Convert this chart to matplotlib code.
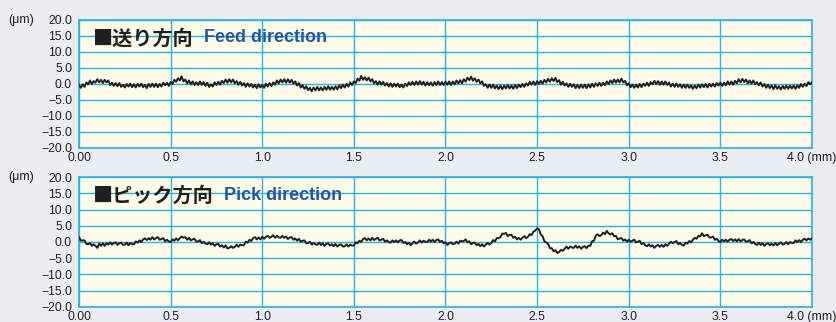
import numpy as np
import matplotlib
matplotlib.use("Agg")
import matplotlib.pyplot as plt

# surface profile readings every 0.01 mm, in micrometres
pos_mm = np.round(np.arange(0, 4.0001, 0.01), 2)

feed_um = [
    -0.3, -1.2, -0.1, -0.9, 0.5, -0.1, 1.1, 0.0, 0.9, 0.4,
    1.5, 0.5, 1.3, 0.3, 1.3, 0.5, 1.1, -0.3, 0.4, -0.6,
    0.3, -0.7, 0.3, -0.9, -0.2, -1.1, 0.0, -0.8, 0.1, -1.0,
    -0.1, -1.1, 0.0, -0.8, 0.1, -1.0, -0.3, -1.3, 0.0, -0.9,
    0.1, -0.9, 0.1, -1.0, 0.0, -0.8, 0.4, -0.4, 0.4, -0.6,
    0.6, 0.0, 1.3, 0.7, 1.8, 1.1, 2.4, 0.8, 1.4, 0.2,
    1.1, -0.1, 0.8, -0.3, 0.6, -0.3, 0.8, -0.3, 0.6, -0.6,
    0.4, -0.9, -0.1, -0.8, 0.5, -0.3, 0.7, -0.2, 1.0, 0.3,
    1.4, 0.4, 1.5, 0.5, 1.4, 0.2, 0.9, -0.2, 0.7, -0.5,
    0.3, -0.9, 0.2, -0.8, 0.0, -1.1, -0.2, -1.3, -0.1, -1.1,
    -0.3, -1.2, 0.1, -0.8, 0.3, -0.7, 0.5, -0.2, 1.1, 0.2,
    1.4, 0.5, 1.5, 0.4, 1.5, 0.4, 1.3, 0.1, 0.8, -0.5,
    0.3, -1.1, -0.4, -1.5, -0.7, -1.9, -1.2, -2.3, -1.1, -2.0,
    -0.9, -2.0, -1.1, -2.0, -0.9, -1.8, -0.7, -1.8, -0.9, -1.8,
    -0.7, -1.7, -0.4, -1.3, -0.2, -1.1, 0.0, -0.8, 0.5, -0.3,
    0.8, 0.3, 1.7, 1.0, 2.5, 1.3, 2.1, 1.1, 2.0, 0.8,
    1.5, 0.2, 0.9, -0.2, 0.8, -0.2, 0.7, -0.5, 0.3, -0.8,
    0.2, -0.9, 0.1, -0.8, 0.1, -1.0, -0.2, -1.1, 0.1, -0.7,
    0.5, -0.3, 0.7, -0.3, 0.8, -0.2, 0.9, -0.2, 0.7, -0.5,
    0.6, -0.4, 0.5, -0.5, 0.6, -0.3, 0.8, -0.3, 0.6, -0.3,
    0.8, -0.2, 0.8, -0.3, 0.8, -0.1, 1.1, 0.2, 1.2, 0.2,
    1.5, 0.7, 2.0, 1.2, 2.3, 1.0, 1.8, 0.7, 1.4, 0.2,
    0.8, -0.6, -0.1, -1.2, -0.2, -1.2, -0.2, -1.4, -0.5, -1.6,
    -0.5, -1.6, -0.5, -1.4, -0.3, -1.4, -0.5, -1.5, -0.3, -1.3,
    -0.2, -1.0, 0.0, -0.9, 0.2, -0.5, 0.7, -0.2, 0.8, -0.3,
    0.9, 0.0, 1.0, 0.1, 1.3, 0.5, 1.6, 0.7, 1.8, 0.9,
    1.9, 0.6, 1.2, -0.2, 0.7, -0.5, 0.2, -0.9, 0.1, -0.9,
    -0.1, -1.3, -0.3, -1.3, -0.2, -1.2, -0.2, -1.3, -0.1, -1.1,
    0.1, -0.9, 0.2, -0.6, 0.4, -0.6, 0.4, -0.4, 0.8, 0.0,
    1.1, 0.3, 1.4, 0.4, 1.4, 0.5, 1.7, 0.5, 1.0, -0.4,
    0.2, -1.0, -0.2, -1.2, -0.2, -1.1, 0.0, -1.0, 0.1, -0.6,
    0.4, -0.6, 0.6, -0.1, 1.0, 0.0, 0.9, -0.2, 0.8, -0.2,
    0.8, -0.3, 0.5, -0.8, 0.1, -0.9, 0.1, -0.9, -0.1, -1.2,
    -0.2, -1.2, -0.2, -1.2, -0.4, -1.5, -0.5, -1.3, -0.2, -1.1,
    -0.1, -1.0, 0.0, -1.1, 0.1, -0.8, 0.1, -0.8, 0.3, -0.5,
    0.4, -0.6, 0.4, -0.4, 0.8, -0.2, 0.8, -0.2, 1.0, 0.2,
    1.5, 0.5, 1.6, 0.6, 1.4, 0.2, 1.1, 0.1, 1.1, -0.1,
    0.6, -0.4, 0.5, -0.8, 0.0, -1.2, -0.2, -1.3, -0.5, -1.6,
    -0.4, -1.5, -0.7, -1.7, -0.6, -1.5, -0.5, -1.5, -0.5, -1.4,
    -0.5, -1.5, -0.4, -1.2, 0.0, -0.9, 0.1, -0.7, 0.6, -0.1,
    0.6,
]

pick_um = [
    1.5, 0.4, 0.5, 0.5, -0.6, -0.7, -0.3, -1.2, -0.7, -1.2,
    -1.8, -0.5, -1.2, -0.4, -1.2, -0.4, -0.8, -0.1, -0.8, -0.3,
    -0.1, -0.9, -0.4, -0.2, -0.9, -0.8, -0.2, -1.0, -0.3, -0.7,
    -0.7, 0.2, -0.2, 0.5, 0.0, 0.8, 1.1, 0.6, 1.2, 0.7,
    1.5, 0.8, 1.2, 1.5, 0.7, 0.9, 1.2, 0.2, 0.7, 0.2,
    0.0, 0.8, 0.4, 1.1, 0.5, 1.2, 1.7, 1.3, 1.5, 0.7,
    1.3, 0.5, 0.8, 1.0, 0.1, 0.2, 0.6, -0.4, 0.1, -0.5,
    -0.7, -0.1, -0.8, -0.4, -1.2, -0.7, -0.6, -1.4, -1.0, -1.7,
    -1.0, -2.0, -1.8, -1.3, -1.8, -1.5, -0.8, -1.5, -0.8, -1.0,
    -1.0, 0.1, -0.2, 0.7, 0.3, 1.2, 1.5, 0.8, 1.4, 0.8,
    1.6, 1.0, 1.6, 1.9, 1.3, 1.6, 2.1, 1.3, 1.9, 1.4,
    1.3, 1.9, 1.3, 1.7, 0.9, 1.4, 1.5, 0.7, 1.1, 0.4,
    1.0, 0.1, 0.4, 0.5, -0.4, -0.3, 0.1, -0.8, -0.3, -0.7,
    -0.9, -0.2, -0.9, -0.4, -1.2, -0.6, -0.4, -1.1, -0.7, -1.3,
    -0.6, -1.4, -0.9, -0.7, -1.4, -1.3, -0.7, -1.4, -0.8, -1.1,
    -1.1, -0.1, -0.4, 0.4, 0.0, 0.9, 1.2, 0.5, 1.1, 0.5,
    1.3, 0.6, 1.0, 1.3, 0.5, 0.7, 1.0, 0.1, 0.5, 0.0,
    -0.2, 0.5, 0.0, 0.5, -0.1, 0.5, 0.6, -0.3, 0.0, -0.7,
    -0.2, -1.0, -0.4, 0.1, -0.5, -0.1, 0.5, -0.2, 0.4, 0.1,
    0.0, 0.7, 0.1, 0.7, 0.0, 0.6, 0.8, 0.0, 0.4, -0.4,
    -0.1, -0.9, -0.4, -0.1, -0.7, -0.5, 0.1, -0.5, 0.4, 0.2,
    0.3, 0.8, -0.1, 0.2, -0.7, -0.3, -0.2, -1.0, -0.6, -1.3,
    -0.7, -1.4, -0.8, -0.3, -0.8, -0.3, 0.6, 0.2, 1.2, 1.2,
    1.5, 2.6, 2.5, 2.8, 1.8, 2.2, 2.2, 1.3, 1.6, 0.8,
    1.3, 0.7, 1.3, 1.8, 1.2, 1.6, 2.4, 2.1, 3.2, 3.5,
    4.2, 3.9, 2.3, 1.8, 0.2, -0.1, -0.6, -1.9, -1.9, -2.9,
    -2.5, -3.4, -3.1, -2.4, -2.7, -2.1, -1.4, -2.1, -1.4, -1.7,
    -1.8, -1.1, -1.8, -1.3, -2.1, -1.5, -1.3, -1.9, -1.1, -1.2,
    0.2, 0.4, 1.9, 2.4, 1.8, 2.1, 2.9, 2.4, 3.4, 2.7,
    2.3, 2.7, 1.8, 1.9, 0.8, 1.1, 1.2, 0.4, 0.8, 0.1,
    0.7, 0.0, 0.4, 0.7, -0.1, 0.1, 0.4, -0.7, -0.3, -1.0,
    -1.3, -0.7, -1.4, -1.0, -1.8, -1.2, -0.9, -1.5, -0.9, -1.5,
    -0.7, -1.2, -0.5, 0.1, -0.4, 0.0, 0.3, -0.7, -0.3, -0.9,
    -1.1, -0.2, -0.5, 0.3, -0.1, 0.7, 1.3, 1.0, 1.9, 1.7,
    2.7, 1.8, 2.1, 2.2, 1.4, 1.4, 1.7, 0.7, 1.0, 0.3,
    0.0, 0.7, 0.2, 0.7, 0.1, 0.7, 0.9, 0.3, 0.8, 0.2,
    0.9, 0.2, 0.6, 0.8, 0.1, 0.2, 0.6, -0.4, 0.0, -0.6,
    -0.9, -0.2, -0.9, -0.4, -1.2, -0.6, -0.4, -1.0, -0.5, -1.1,
    -0.3, -1.0, -0.5, -0.1, -0.8, -0.6, 0.0, -0.7, 0.0, -0.3,
    -0.3, 0.5, 0.0, 0.6, 0.0, 0.7, 1.0, 0.5, 1.1, 0.7,
    1.2,
]

y_ticks = [-20.0, -15.0, -10.0, -5.0, 0.0, 5.0, 10.0, 15.0, 20.0]
y_labels = ["\u221220.0", "\u221215.0", "\u221210.0", "\u22125.0", "0.0",
            "5.0", "10.0", "15.0", "20.0"]
x_ticks = [0.0, 0.5, 1.0, 1.5, 2.0, 2.5, 3.0, 3.5, 4.0]
x_labels = ["0.00", "0.5", "1.0", "1.5", "2.0", "2.5", "3.0", "3.5", "4.0 (mm)"]

panels = [
    ("\u25a0送り方向", "Feed direction", feed_um),
    ("\u25a0ピック方向", "Pick direction", pick_um),
]

grid_col = "#22b4ea"
blue_txt = "#1d58a6"
ink = "#231f20"
plt.rcParams["font.family"] = ["Liberation Sans", "DejaVu Sans"]

fig = plt.figure(figsize=(8.37, 3.22), dpi=100, facecolor="#eaeef2")
rects = [[0.0944, 0.5404, 0.8757, 0.3975], [0.0944, 0.0466, 0.8757, 0.4037]]

for rect, (jp, en, vals) in zip(rects, panels):
    ax = fig.add_axes(rect)
    ax.set_facecolor("#fffde8")
    ax.plot(pos_mm, vals, color=ink, lw=1.4, zorder=3)
    ax.set_xlim(0, 4)
    ax.set_ylim(-20, 20)
    ax.set_xticks(x_ticks)
    ax.set_xticklabels(x_labels)
    ax.set_yticks(y_ticks)
    ax.set_yticklabels(y_labels)
    ax.tick_params(length=0, labelsize=8.8, colors=ink)
    ax.tick_params(axis="x", pad=3)
    ax.tick_params(axis="y", pad=5)
    ax.grid(True, color=grid_col, lw=1.0)
    for s in ax.spines.values():
        s.set_color(grid_col)
        s.set_linewidth(1.2)
    ax.text(-0.097, 1.0, "(\u03bcm)", transform=ax.transAxes, ha="left",
            va="center", fontsize=9, color=ink)
    t = ax.text(0.0195, 0.86, jp, transform=ax.transAxes, ha="left",
                va="center", fontsize=14.5, color=ink,
                family=["Noto Sans CJK JP", "DejaVu Sans"], weight="bold",
                zorder=4)
    ax.annotate(en, xy=(1, 0.5), xycoords=t, xytext=(7, 0),
                textcoords="offset points", ha="left", va="center",
                fontsize=13, color=blue_txt, weight="bold", zorder=4)

fig.savefig("out.png", dpi=100, facecolor=fig.get_facecolor())
